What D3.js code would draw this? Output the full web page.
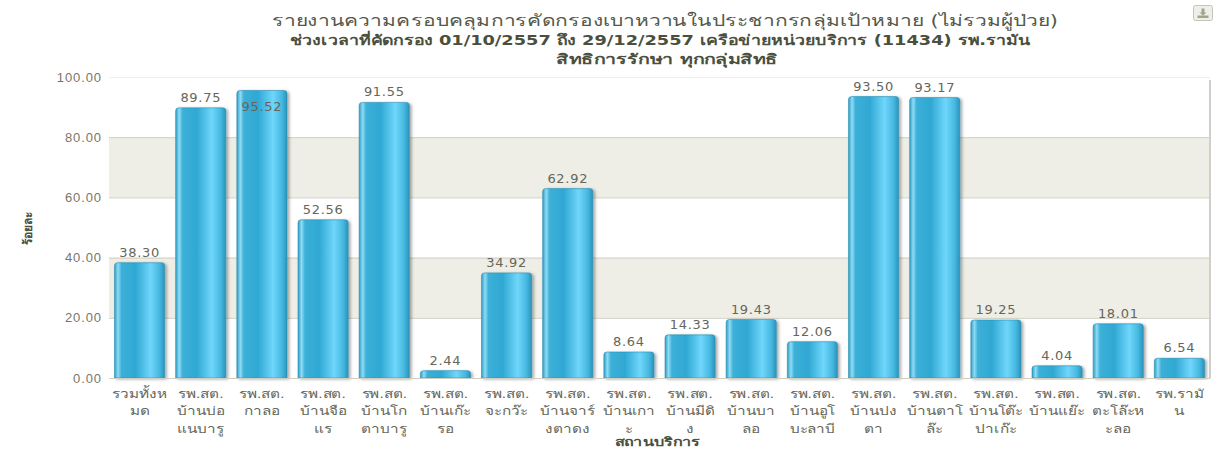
<!DOCTYPE html>
<html>
<head>
<meta charset="utf-8">
<script src="https://cdnjs.cloudflare.com/ajax/libs/d3/7.8.5/d3.min.js"></script>
<style>
    html, body { margin: 0; padding: 0; background: #fff; }
    svg { display: block; font-family: "DejaVu Sans", "Noto Sans", sans-serif; }
</style>
</head>
<body>
<svg width="1214" height="450"></svg>
<script>
const categories = [
    ["รวมทั้งห", "มด"],
    ["รพ.สต.", "บ้านบ่อ", "แนบารู"],
    ["รพ.สต.", "กาลอ"],
    ["รพ.สต.", "บ้านจือ", "แร"],
    ["รพ.สต.", "บ้านโก", "ตาบารู"],
    ["รพ.สต.", "บ้านเก๊ะ", "รอ"],
    ["รพ.สต.", "จะกว๊ะ"],
    ["รพ.สต.", "บ้านจาร์", "งตาดง"],
    ["รพ.สต.", "บ้านเกา", "ะ"],
    ["รพ.สต.", "บ้านมีดิ", "ง"],
    ["รพ.สต.", "บ้านบา", "ลอ"],
    ["รพ.สต.", "บ้านอูโ", "บะลาบี"],
    ["รพ.สต.", "บ้านปง", "ตา"],
    ["รพ.สต.", "บ้านตาโ", "ล๊ะ"],
    ["รพ.สต.", "บ้านโต๊ะ", "ปาเก๊ะ"],
    ["รพ.สต.", "บ้านแย๊ะ"],
    ["รพ.สต.", "ตะโล๊ะห", "ะลอ"],
    ["รพ.รามั", "น"]
];
const values = [38.30, 89.75, 95.52, 52.56, 91.55, 2.44, 34.92, 62.92, 8.64, 14.33, 19.43, 12.06, 93.50, 93.17, 19.25, 4.04, 18.01, 6.54];
const yTicks = [0, 20, 40, 60, 80, 100];
const titleLines = [
    "รายงานความครอบคลุมการคัดกรองเบาหวานในประชากรกลุ่มเป้าหมาย (ไม่รวมผู้ป่วย)",
    "ช่วงเวลาที่คัดกรอง 01/10/2557 ถึง 29/12/2557 เครือข่ายหน่วยบริการ (11434) รพ.รามัน",
    "สิทธิการรักษา ทุกกลุ่มสิทธิ"
];
const yTitle = "ร้อยละ";
const xTitle = "สถานบริการ";

const svg = d3.select("svg");
const area = { left: 109, right: 1210, top: 77, bottom: 378 };

const scX = d3.scaleBand()
    .domain(d3.range(categories.length))
    .range([area.left, area.right])
    .paddingInner(0.18)
    .paddingOuter(0.09);
const scY = d3.scaleLinear().domain([0, 100]).range([area.bottom, area.top]);

// bar fill, dark at the edges with a light stripe
const defs = svg.append("defs");
const grad = defs.append("linearGradient").attr("id", "barFill");
[[0, "#2c9cc4"], [0.07, "#8fdcf5"], [0.14, "#3cb0d8"], [0.42, "#2fa8d3"], [0.72, "#70d6fb"], [0.9, "#45b8e0"], [1, "#2a93ba"]]
    .forEach(s => grad.append("stop").attr("offset", s[0]).attr("stop-color", s[1]));
const shadow = defs.append("filter").attr("id", "barShadow")
    .attr("x", "-10%").attr("y", "-10%").attr("width", "125%").attr("height", "120%");
shadow.append("feDropShadow").attr("dx", 2).attr("dy", 1).attr("stdDeviation", 1.5)
    .attr("flood-color", "#000").attr("flood-opacity", 0.35);

// shaded bands: 20-40 and 60-80
[20, 60].forEach(v => {
    svg.append("rect")
        .attr("x", area.left)
        .attr("y", scY(v + 20))
        .attr("width", area.right - area.left)
        .attr("height", scY(v) - scY(v + 20))
        .attr("fill", "#eeeee6");
});

const axisY = d3.axisLeft(scY).tickValues(yTicks).tickFormat(d3.format(".2f"))
    .tickSize(-(area.right - area.left)).tickPadding(7);
const gY = svg.append("g").attr("transform", `translate(${area.left},0)`).call(axisY);
gY.select(".domain").remove();
gY.selectAll("line").attr("stroke", d => d === 100 ? "#efefea" : "#cfcfc4").attr("stroke-width", 1);
gY.selectAll("text").attr("fill", "#77776a").attr("font-size", 13).attr("letter-spacing", 0.9);

// plot frame: soft shadow down the right side
svg.append("line")
    .attr("x1", area.right).attr("x2", area.right)
    .attr("y1", scY(100) + 3).attr("y2", scY(0))
    .attr("stroke", "#cfcfcb").attr("stroke-width", 2);

const bars = svg.append("g");
values.forEach((v, i) => {
    const x = scX(i), w = scX.bandwidth(), y = scY(v), r = 3;
    bars.append("path")
        .attr("d", `M${x},${scY(0)}V${y + r}Q${x},${y} ${x + r},${y}H${x + w - r}Q${x + w},${y} ${x + w},${y + r}V${scY(0)}Z`)
        .attr("fill", "url(#barFill)")
        .attr("stroke", "#2b8fb4")
        .attr("stroke-width", 0.6)
        .attr("filter", "url(#barShadow)");
});

svg.append("g").selectAll("text").data(values).enter().append("text")
    .attr("x", (d, i) => scX(i) + scX.bandwidth() / 2)
    // the tallest bar's label is pushed inside the plot, as the library did
    .attr("y", d => d > 95 ? scY(d) + 21 : scY(d) - 6)
    .attr("text-anchor", "middle")
    .attr("font-size", 13)
    .attr("letter-spacing", 0.7)
    .attr("fill", "#66665a")
    .text(d => d.toFixed(2));

const axisX = d3.axisBottom(scX).tickSize(0).tickPadding(0).tickFormat("");
const gX = svg.append("g").attr("transform", `translate(0,${area.bottom})`).call(axisX);
gX.select(".domain").attr("stroke", "#cfcfc4");
gX.selectAll(".tick").each(function (d) {
    const t = d3.select(this).append("text")
        .attr("text-anchor", "middle")
        .attr("font-size", 12)
        .attr("transform", "scale(1.28,1)")
        .attr("fill", "#66665a");
    categories[d].forEach((line, k) => {
        t.append("tspan").attr("x", 0).attr("y", 20 + k * 17.5).text(line);
    });
});

const titleX = [665, 660, 667];
const titleW = [786, 741, 222];
titleLines.forEach((line, i) => {
    svg.append("text")
        .attr("x", titleX[i])
        .attr("y", [26, 45, 64][i])
        .attr("text-anchor", "middle")
        .attr("font-size", i === 0 ? 16 : 14)
        .attr("font-weight", i === 0 ? "normal" : "bold")
        .attr("textLength", titleW[i])
        .attr("lengthAdjust", "spacingAndGlyphs")
        .attr("fill", i === 0 ? "#55594a" : "#4a4f3e")
        .text(line);
});

svg.append("text")
    .attr("transform", "translate(32,228) rotate(-90)")
    .attr("text-anchor", "middle")
    .attr("font-size", 12).attr("font-weight", "bold").attr("fill", "#4a4f3e")
    .text(yTitle);
svg.append("text")
    .attr("x", 657).attr("y", 446)
    .attr("text-anchor", "middle")
    .attr("font-size", 12).attr("font-weight", "bold").attr("fill", "#4a4f3e")
    .attr("textLength", 85).attr("lengthAdjust", "spacingAndGlyphs")
    .text(xTitle);

// export button, top right
const btn = svg.append("g").attr("transform", "translate(1193.5,5.5)");
btn.append("rect").attr("width", 19).attr("height", 15).attr("rx", 2)
    .attr("fill", "#eeeeea").attr("stroke", "#c4c4bc");
btn.append("path").attr("d", "M4,10H15V12.5H4Z M8,3H11V7H13L9.5,10L6,7H8Z").attr("fill", "#9aa884");
</script>
</body>
</html>
